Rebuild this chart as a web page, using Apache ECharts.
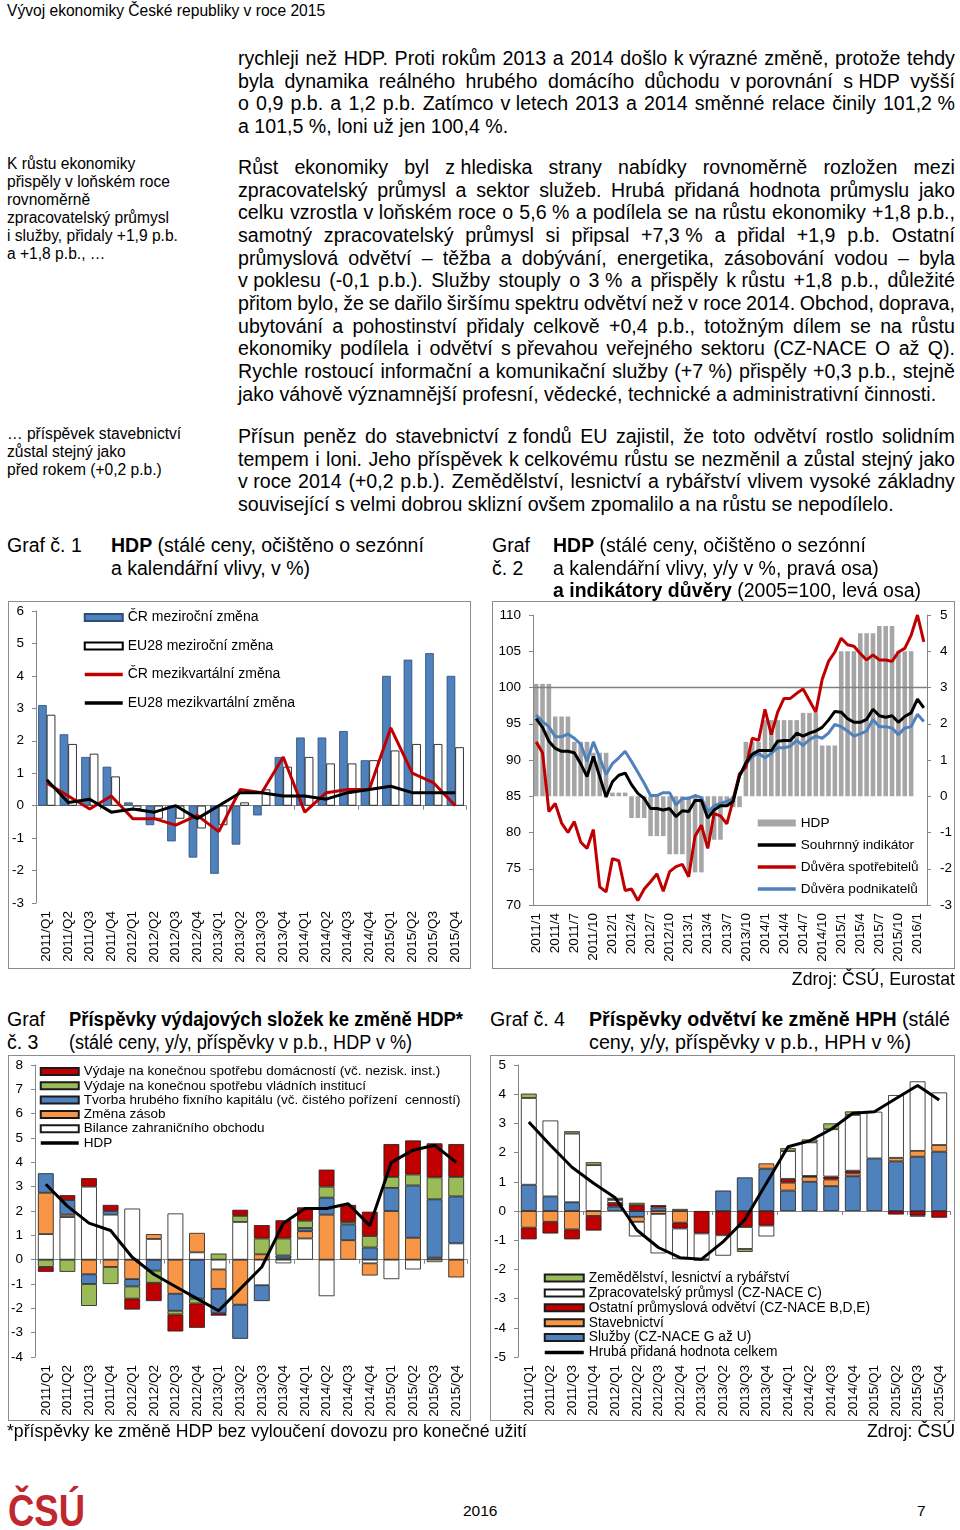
<!DOCTYPE html>
<html lang="cs"><head><meta charset="utf-8">
<script src="https://cdn.jsdelivr.net/npm/echarts@6.0.0/dist/echarts.min.js"></script>
<style>
html,body{margin:0;padding:0;background:#fff;}
body{width:960px;height:1530px;position:relative;overflow:hidden;font-family:'Liberation Sans',Arial,Helvetica,sans-serif;color:#000;}
.tx{position:absolute;white-space:nowrap;}
.ln{position:absolute;left:238px;width:717px;font-size:19.6px;line-height:22.65px;white-space:nowrap;}
.ln span{white-space:nowrap;}
.box{position:absolute;border:1px solid #8c8c8c;box-sizing:border-box;pointer-events:none;}
.ch{position:absolute;}
</style></head><body>
<div id="c1" class="ch" style="left:8px;top:601px;width:463px;height:367px"></div>
<div id="c2" class="ch" style="left:492px;top:601px;width:463px;height:367px"></div>
<div id="c3" class="ch" style="left:8px;top:1055px;width:463px;height:365px"></div>
<div id="c4" class="ch" style="left:490px;top:1055px;width:465px;height:365px"></div>
<div class="box" style="left:8px;top:601px;width:463px;height:368px"></div>
<div class="box" style="left:492px;top:601px;width:463px;height:368px"></div>
<div class="box" style="left:8px;top:1055px;width:463px;height:366px"></div>
<div class="box" style="left:490px;top:1055px;width:465px;height:366px"></div>
<script>
// ---------- DATA ----------
const quarters = ['2011/Q1','2011/Q2','2011/Q3','2011/Q4','2012/Q1','2012/Q2','2012/Q3','2012/Q4','2013/Q1','2013/Q2','2013/Q3','2013/Q4','2014/Q1','2014/Q2','2014/Q3','2014/Q4','2015/Q1','2015/Q2','2015/Q3','2015/Q4'];
// Graf 1
const crYoY = [3.1,2.2,1.5,1.2,0.1,-0.6,-1.1,-1.6,-2.1,-1.2,-0.3,1.5,2.1,2.1,2.3,1.4,4.0,4.5,4.7,4.0];
const euYoY = [2.8,1.9,1.6,0.9,-0.1,-0.4,-0.4,-0.7,-0.6,0.1,0.5,1.2,1.5,1.3,1.3,1.4,1.7,1.9,1.9,1.8];
const crQoQ = [0.7,0.3,-0.1,0.3,-0.4,-0.4,-0.6,-0.3,-0.8,0.5,0.4,1.5,-0.2,0.4,0.5,0.5,2.4,1.0,0.7,0.0];
const euQoQ = [0.8,0.1,0.2,-0.2,-0.1,-0.2,0.0,-0.4,0.0,0.4,0.4,0.3,0.3,0.2,0.4,0.5,0.6,0.4,0.4,0.4];
// Graf 2
const months = ('2011/1 2011/2 2011/3 2011/4 2011/5 2011/6 2011/7 2011/8 2011/9 2011/10 2011/11 2011/12 ' +
 '2012/1 2012/2 2012/3 2012/4 2012/5 2012/6 2012/7 2012/8 2012/9 2012/10 2012/11 2012/12 ' +
 '2013/1 2013/2 2013/3 2013/4 2013/5 2013/6 2013/7 2013/8 2013/9 2013/10 2013/11 2013/12 ' +
 '2014/1 2014/2 2014/3 2014/4 2014/5 2014/6 2014/7 2014/8 2014/9 2014/10 2014/11 2014/12 ' +
 '2015/1 2015/2 2015/3 2015/4 2015/5 2015/6 2015/7 2015/8 2015/9 2015/10 2015/11 2015/12 ' +
 '2016/1 2016/2').split(' ');
const hdpQuarterly = [3.1,2.2,1.5,1.2,0.1,-0.6,-1.1,-1.6,-2.1,-1.2,-0.3,1.5,2.1,2.1,2.3,1.4,4.0,4.5,4.7,4.0];
const souhrnny = [95.7,94.5,92.6,91.6,91.2,91.2,91.0,89.5,87.7,90.5,87.7,84.9,
 87.0,87.9,88.2,86.6,85.4,84.7,83.3,83.3,83.1,83.3,82.2,83.0,
 82.9,84.4,84.4,82.0,83.1,83.7,83.7,84.3,87.8,89.6,90.8,91.3,
 91.3,91.3,92.6,92.7,92.7,93.7,93.3,93.7,94.0,94.5,95.5,96.7,
 96.6,95.7,95.2,95.2,95.6,97.0,96.1,95.9,96.1,95.2,96.0,96.5,
 98.4,97.2];
const spotrebitele = [92.5,91.0,82.9,84.0,81.3,80.0,81.5,78.7,77.8,80.4,72.5,71.8,
 76.4,76.1,72.0,72.2,70.6,72.2,73.2,74.3,71.9,74.6,75.3,75.6,
 73.9,79.5,81.0,77.8,82.6,82.3,81.2,84.5,88.1,89.0,93.0,92.7,
 97.0,93.5,96.6,98.5,98.5,99.2,99.8,98.2,96.6,101.1,103.6,104.9,
 106.8,105.9,105.7,104.7,103.8,104.5,103.8,103.8,103.6,104.9,105.4,107.2,
 110.0,106.3];
const podnikatele = [96.2,95.3,94.6,93.2,93.2,93.6,93.0,92.2,89.8,92.5,90.3,88.0,
 89.5,90.3,91.2,89.8,88.3,86.8,85.1,85.1,85.5,85.5,83.8,84.7,
 84.7,85.1,84.8,82.8,83.7,84.0,84.3,84.7,87.8,89.4,90.5,90.9,
 90.3,90.9,91.7,91.7,91.9,92.7,92.0,92.8,93.3,93.0,93.7,94.9,
 94.6,94.0,93.3,93.6,94.0,95.6,94.6,94.6,94.4,93.5,94.4,94.6,
 96.3,95.3];
// Graf 3
const domacnosti = [-0.2,0.2,0.35,0.25,-0.45,-0.75,-0.7,-1.0,-0.1,0.25,0.55,0.75,0.55,0.7,0.7,1.0,1.35,1.4,1.4,1.35];
const vlada = [-0.3,-0.5,-0.9,-0.7,-0.5,-0.5,-0.15,-0.2,0.25,0.25,0.65,0.7,0.3,0.45,0.1,0.47,0.45,0.45,0.9,0.8];
const tvorba = [0.8,0.6,-0.4,0.15,-0.3,-0.45,-0.7,-1.6,-1.0,-1.4,-0.65,0.12,0.13,0.7,0.65,0.5,0.95,2.15,2.4,1.93];
const zasoby = [1.7,0.1,-0.6,-0.3,-0.8,0.2,-1.4,0.8,-0.8,-1.85,0.22,0.05,0.3,1.85,0.8,-0.5,2.0,0.9,0.08,-0.73];
const bilance = [1.05,1.75,3.0,1.85,2.1,0.85,1.9,0.3,-0.4,1.55,-1.05,-0.15,0.87,-1.5,0.0,-0.15,-0.8,-0.4,-0.1,0.67];
const hdp3 = [3.1,2.2,1.5,1.2,0.1,-0.6,-1.1,-1.6,-2.1,-1.2,-0.3,1.5,2.1,2.1,2.3,1.4,4.0,4.5,4.7,4.0];
// Graf 4
const zemedelstvi = [0.15,0.0,0.08,0.1,0.07,0.08,0.0,0.07,-0.05,0.0,-0.1,0.0,0.1,0.1,0.2,0.12,0.0,0.0,-0.04,0.0];
const zpracovatelsky = [2.97,2.6,2.35,1.57,0.1,-0.5,-1.35,-1.05,-0.88,-0.7,-0.75,-0.37,0.95,1.15,1.62,1.91,1.6,2.15,2.38,1.8];
const ostatni = [-0.4,-0.4,-0.34,-0.5,0.13,0.2,0.08,-0.2,-0.77,-0.83,-0.55,-0.5,0.13,0.03,0.1,0.09,0.0,-0.12,-0.15,-0.23];
const stavebnictvi = [-0.57,-0.37,-0.63,-0.17,0.0,-0.17,-0.1,-0.4,0.0,0.0,0.0,0.18,0.27,0.17,0.23,0.1,0.0,0.12,0.2,0.23];
const sluzby = [0.9,0.5,0.3,0.0,0.15,-0.2,0.12,0.0,0.0,0.7,1.15,1.45,0.7,1.0,0.85,1.19,1.8,1.7,1.86,2.03];
const hph = [3.05,2.25,1.5,0.95,0.45,-0.65,-1.25,-1.6,-1.65,-1.05,-0.3,0.95,2.2,2.4,2.8,3.35,3.4,3.85,4.3,3.8];

// ---------- TEXT ----------
const P1 = ['rychleji než HDP. Proti rokům 2013 a 2014 došlo k výrazné změně, protože tehdy',
 'byla dynamika reálného hrubého domácího důchodu v porovnání s HDP vyšší',
 'o 0,9 p.b. a 1,2 p.b. Zatímco v letech 2013 a 2014 směnné relace činily 101,2 %',
 'a 101,5 %, loni už jen 100,4 %.'];
const P2 = ['Růst ekonomiky byl z hlediska strany nabídky rovnoměrně rozložen mezi',
 'zpracovatelský průmysl a sektor služeb. Hrubá přidaná hodnota průmyslu jako',
 'celku vzrostla v loňském roce o 5,6 % a podílela se na růstu ekonomiky +1,8 p.b.,',
 'samotný zpracovatelský průmysl si připsal +7,3 % a přidal +1,9 p.b. Ostatní',
 'průmyslová odvětví – těžba a dobývání, energetika, zásobování vodou – byla',
 'v poklesu (-0,1 p.b.). Služby stouply o 3 % a přispěly k růstu +1,8 p.b., důležité',
 'přitom bylo, že se dařilo širšímu spektru odvětví než v roce 2014. Obchod, doprava,',
 'ubytování a pohostinství přidaly celkově +0,4 p.b., totožným dílem se na růstu',
 'ekonomiky podílela i odvětví s převahou veřejného sektoru (CZ-NACE O až Q).',
 'Rychle rostoucí informační a komunikační služby (+7 %) přispěly +0,3 p.b., stejně',
 'jako váhově významnější profesní, vědecké, technické a administrativní činnosti.'];
const P3 = ['Přísun peněz do stavebnictví z fondů EU zajistil, že toto odvětví rostlo solidním',
 'tempem i loni. Jeho příspěvek k celkovému růstu se nezměnil a zůstal stejný jako',
 'v roce 2014 (+0,2 p.b.). Zemědělství, lesnictví a rybářství vlivem vysoké základny',
 'související s velmi dobrou sklizní ovšem zpomalilo a na růstu se nepodílelo.'];
const NOTE1 = ['K růstu ekonomiky','přispěly v loňském roce','rovnoměrně','zpracovatelský průmysl','i služby, přidaly +1,9 p.b.','a +1,8 p.b., …'];
const NOTE2 = ['… příspěvek stavebnictví','zůstal stejný jako','před rokem (+0,2 p.b.)'];

function prep(t){ return t.replace(/(^| )([vszk]) /g,'$1$2\u00a0').replace(/(^| )([vszk]) /g,'$1$2\u00a0').replace(/ %/g,'\u00a0%'); }
function para(lines, top){
  lines.forEach((t,i)=>{
    const d=document.createElement('div'); d.className='ln'; d.style.top=(top+i*22.65)+'px';
    const s=prep(t);
    if(i<lines.length-1){ d.style.display='flex'; d.style.justifyContent='space-between';
      s.split(' ').forEach(w=>{const sp=document.createElement('span'); sp.textContent=w; d.appendChild(sp);});
    } else d.textContent=s;
    document.body.appendChild(d);
  });
}
function T(html,o){
  const d=document.createElement('div'); d.className='tx'; d.innerHTML=html;
  d.style.left=(o.l||0)+'px'; d.style.top=o.t+'px'; d.style.fontSize=o.fs+'px';
  d.style.lineHeight=(o.lh||o.fs*1.15)+'px';
  if(o.b) d.style.fontWeight='bold'; if(o.c) d.style.color=o.c;
  document.body.appendChild(d);
  let w=d.getBoundingClientRect().width;
  if(o.w){ d.style.transformOrigin='0 0'; d.style.transform='scaleX('+(o.w/w)+')'; w=o.w; }
  if(o.r!==undefined){ d.style.left=(o.r-w)+'px'; }
  return d;
}
para(P1,47); para(P2,156); para(P3,425);
T(NOTE1.join('<br>'),{l:7,t:155,fs:15.6,lh:18});
T(NOTE2.join('<br>'),{l:7,t:425,fs:15.6,lh:18});
T('Vývoj ekonomiky České republiky v roce 2015',{l:7,t:2,fs:15.6,lh:18});
T('Graf č. 1',{l:7,t:534,fs:19.5,lh:22.5});
T('<b>HDP</b> (stálé ceny, očištěno o sezónní<br>a kalendářní vlivy, v %)',{l:111,t:534,fs:19.5,lh:22.5});
T('Graf<br>č. 2',{l:492,t:534,fs:19.5,lh:22.5});
T('<b>HDP</b> (stálé ceny, očištěno o sezónní<br>a kalendářní vlivy, y/y v %, pravá osa)<br><b>a indikátory důvěry</b> (2005=100, levá osa)',{l:553,t:534,fs:19.5,lh:22.5});
T('Zdroj: ČSÚ, Eurostat',{r:955,t:969,fs:17.7,lh:20});
T('Graf<br>č. 3',{l:7,t:1008,fs:19.5,lh:22.5,w:38});
T('<b>Příspěvky výdajových složek ke změně HDP*</b>',{l:69,t:1008,fs:19.5,lh:22.5,w:394});
T('(stálé ceny, y/y, příspěvky v p.b., HDP v %)',{l:69,t:1030.5,fs:19.5,lh:22.5,w:343});
T('Graf č. 4',{l:490,t:1008,fs:19.5,lh:22.5,w:75});
T('<b>Příspěvky odvětví ke změně HPH</b> (stálé',{l:589,t:1008,fs:19.5,lh:22.5,w:361});
T('ceny, y/y, příspěvky v p.b., HPH v %)',{l:589,t:1030.5,fs:19.5,lh:22.5,w:322});
T('*příspěvky ke změně HDP bez vyloučení dovozu pro konečné užití',{l:7,t:1421,fs:18,lh:20,w:520});
T('Zdroj: ČSÚ',{r:955,t:1421,fs:18,lh:20,w:88});
T('ČSÚ',{l:8,t:1486,fs:45,lh:50,b:true,c:'#C1272D',w:77});
T('2016',{l:463,t:1502,fs:15.5,lh:18});
T('7',{l:917,t:1502,fs:15.5,lh:18});

// ---------- CHARTS ----------
const FONT="'Liberation Sans', Arial, Helvetica, sans-serif";
const AX='#868686';
const RED='#C00000', BLUE='#4F81BD', GREEN='#9BBB59', ORANGE='#F79646', GREY='#A6A6A6';
const nz = a => a.map(v => v===0 ? '-' : v);
const lineItem = n => ({name:n, itemStyle:{opacity:0}, lineStyle:{width:3.5}});
const rectItem = n => ({name:n, icon:'rect'});
function catAxes(cats){
  return [
    {type:'category',data:cats,position:'bottom',axisLine:{show:false,onZero:false},axisTick:{show:false},
     axisLabel:{rotate:90,interval:0,fontSize:13.5,color:'#000',margin:8,fontFamily:FONT}},
    {type:'category',data:cats,position:'bottom',axisLine:{show:true,onZero:true,lineStyle:{color:AX,width:1}},
     axisTick:{show:true,length:4,lineStyle:{color:AX}},axisLabel:{show:false}}
  ];
}
function valAxis(min,max,extra){
  return Object.assign({type:'value',min:min,max:max,interval:1,splitLine:{show:false},
    axisLine:{show:true,lineStyle:{color:AX}},axisTick:{show:true,length:4,lineStyle:{color:AX}},
    axisLabel:{fontSize:13.5,color:'#000',margin:12,fontFamily:FONT}},extra||{});
}
function lineS(name,data,color,extra){
  return Object.assign({name:name,type:'line',data:data,symbol:'none',silent:true,
    lineStyle:{color:color,width:3},itemStyle:{color:color},z:5},extra||{});
}
function barS(name,data,color,border,extra){
  return Object.assign({name:name,type:'bar',data:data,silent:true,
    itemStyle:{color:color,borderColor:border,borderWidth:0.8}},extra||{});
}
function legendCfg(left,top,iw,fs,lh,gap,data){
  return {orient:'vertical',left:left,top:top,padding:0,itemWidth:iw,itemHeight:7,itemGap:gap,selectedMode:false,
    textStyle:{fontSize:fs,lineHeight:lh,color:'#000',fontFamily:FONT},data:data};
}

// Graf 1
echarts.init(document.getElementById('c1')).setOption({
  animation:false, textStyle:{fontFamily:FONT},
  grid:{left:28,top:10,right:5,bottom:65},
  legend:legendCfg(75,9.5,38,14,14,14.5,[rectItem('ČR meziroční změna'),rectItem('EU28 meziroční změna'),lineItem('ČR mezikvartální změna'),lineItem('EU28 mezikvartální změna')]),
  xAxis:catAxes(quarters),
  yAxis:valAxis(-3,6),
  series:[
    barS('ČR meziroční změna',crYoY,BLUE,'#2C4D75',{barWidth:8.6,barGap:'0%'}),
    barS('EU28 meziroční změna',euYoY,'#FFFFFF','#000000',{barWidth:8.6,barGap:'0%'}),
    lineS('ČR mezikvartální změna',crQoQ,RED),
    lineS('EU28 mezikvartální změna',euQoQ,'#000000')
  ]
});

// Graf 2
const hdpMonthly = months.map((m,i)=> i<hdpQuarterly.length*3 ? hdpQuarterly[Math.floor(i/3)] : '-');
echarts.init(document.getElementById('c2')).setOption({
  animation:false, textStyle:{fontFamily:FONT},
  grid:{left:41,top:14,right:26,bottom:63},
  legend:legendCfg(264,215,38,13.6,14,8,[rectItem('HDP'),lineItem('Souhrnný indikátor'),lineItem('Důvěra spotřebitelů'),lineItem('Důvěra podnikatelů')]),
  xAxis:{type:'category',data:months,axisLine:{onZero:false,lineStyle:{color:AX}},
    axisTick:{interval:0,length:4,lineStyle:{color:AX}},
    axisLabel:{interval:2,rotate:90,fontSize:13.5,color:'#000',margin:8,fontFamily:FONT}},
  yAxis:[
    valAxis(70,110,{interval:5}),
    valAxis(-3,5,{position:'right',axisLabel:{fontSize:13.5,color:'#000',margin:13,fontFamily:FONT}})
  ],
  series:[
    {name:'HDP',type:'bar',yAxisIndex:1,data:hdpMonthly,silent:true,barCategoryGap:'28%',itemStyle:{color:GREY}},
    lineS('Důvěra podnikatelů',podnikatele,BLUE,{yAxisIndex:0,
      markLine:{silent:true,symbol:'none',label:{show:false},lineStyle:{color:'#7F7F7F',width:1.3,type:'solid'},data:[{yAxis:100}]}}),
    lineS('Důvěra spotřebitelů',spotrebitele,RED,{yAxisIndex:0}),
    lineS('Souhrnný indikátor',souhrnny,'#000000',{yAxisIndex:0})
  ]
});

// Graf 3
const stack3 = {stack:'s',barCategoryGap:'27%'};
echarts.init(document.getElementById('c3')).setOption({
  animation:false, textStyle:{fontFamily:FONT},
  grid:{left:27,top:10,right:4,bottom:63},
  legend:legendCfg(31,9.5,38,13.5,13,0.3,[rectItem('Výdaje na konečnou spotřebu domácností (vč. nezisk. inst.)'),
      rectItem('Výdaje na konečnou spotřebu vládních institucí'),
      rectItem('Tvorba hrubého fixního kapitálu (vč. čistého pořízení  cenností)'),
      rectItem('Změna zásob'),
      rectItem('Bilance zahraničního obchodu'),lineItem('HDP')]),
  xAxis:catAxes(quarters),
  yAxis:valAxis(-4,8),
  series:[
    barS('Bilance zahraničního obchodu',nz(bilance),'#FFFFFF','#1a1a1a',stack3),
    barS('Změna zásob',nz(zasoby),ORANGE,'#1a1a1a',stack3),
    barS('Tvorba hrubého fixního kapitálu (vč. čistého pořízení  cenností)',nz(tvorba),BLUE,'#1a1a1a',stack3),
    barS('Výdaje na konečnou spotřebu vládních institucí',nz(vlada),GREEN,'#1a1a1a',stack3),
    barS('Výdaje na konečnou spotřebu domácností (vč. nezisk. inst.)',nz(domacnosti),RED,'#1a1a1a',stack3),
    lineS('HDP',hdp3,'#000000')
  ]
});

// Graf 4
const stack4 = {stack:'s',barCategoryGap:'27%'};
echarts.init(document.getElementById('c4')).setOption({
  animation:false, textStyle:{fontFamily:FONT},
  grid:{left:28,top:10,right:5,bottom:63},
  legend:legendCfg(53,216,39,13.8,13.5,0.9,[rectItem('Zemědělství, lesnictví a rybářství'),
      rectItem('Zpracovatelský průmysl (CZ-NACE C)'),
      rectItem('Ostatní průmyslová odvětví (CZ-NACE B,D,E)'),
      rectItem('Stavebnictví'),
      rectItem('Služby (CZ-NACE G až U)'),lineItem('Hrubá přidaná hodnota celkem')]),
  xAxis:catAxes(quarters),
  yAxis:valAxis(-5,5),
  series:[
    barS('Služby (CZ-NACE G až U)',nz(sluzby),BLUE,'#1a1a1a',stack4),
    barS('Stavebnictví',nz(stavebnictvi),ORANGE,'#1a1a1a',stack4),
    barS('Ostatní průmyslová odvětví (CZ-NACE B,D,E)',nz(ostatni),RED,'#1a1a1a',stack4),
    barS('Zpracovatelský průmysl (CZ-NACE C)',nz(zpracovatelsky),'#FFFFFF','#1a1a1a',stack4),
    barS('Zemědělství, lesnictví a rybářství',nz(zemedelstvi),GREEN,'#1a1a1a',stack4),
    lineS('Hrubá přidaná hodnota celkem',hph,'#000000')
  ]
});
</script>
</body></html>
